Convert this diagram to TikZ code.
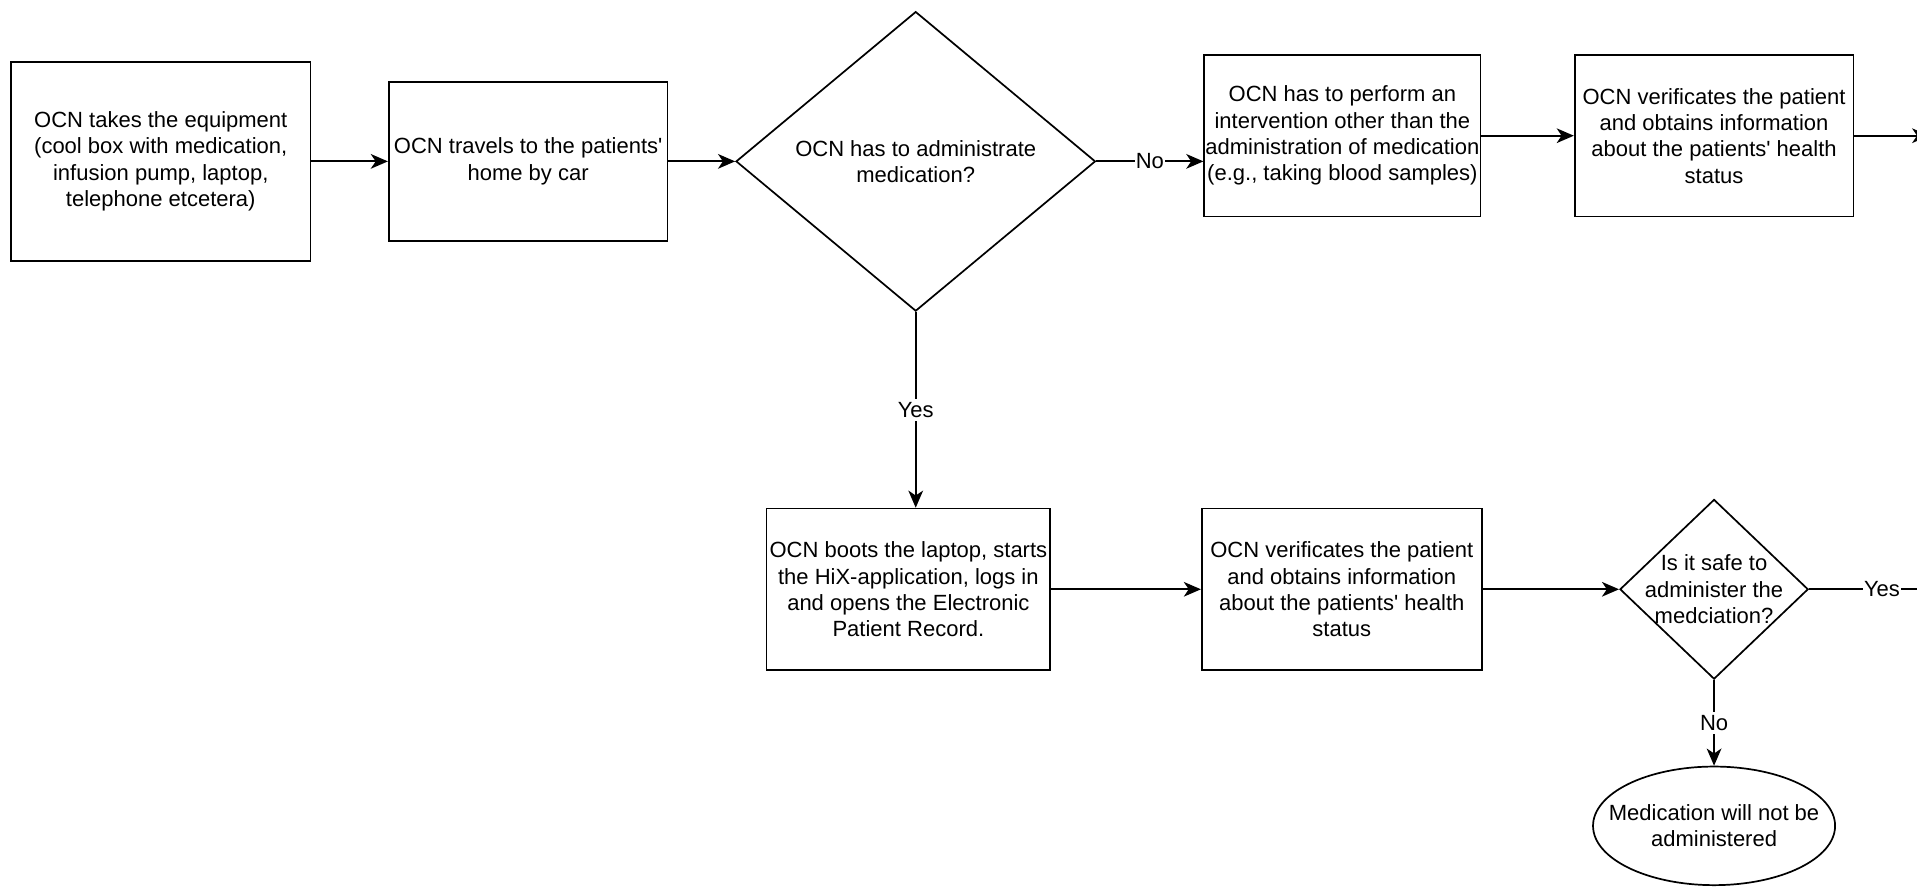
\documentclass[tikz,border=0pt]{standalone}
\usepackage{fontspec}
\setmainfont{Liberation Sans}
\usetikzlibrary{arrows.meta,shapes.geometric}
\newcommand{\apos}{\textquotesingle}
\begin{document}
\begin{tikzpicture}[x=1pt,y=-1pt,
  every node/.style={font=\fontsize{18}{21.5}\selectfont, align=center, inner sep=0pt},
  stepbox/.style={draw, line width=1.4pt, rectangle, fill=white},
  decision/.style={draw, line width=1.4pt, diamond, fill=white},
  terminal/.style={draw, line width=1.4pt, ellipse, fill=white},
  flow/.style={line width=1.5pt, -{Stealth[length=14pt,width=12pt,inset=4pt]}},
  lbl/.style={fill=white, inner xsep=1pt, inner ysep=3pt}
]
\useasboundingbox (0,0) rectangle (1568,725);

% top row
\node[stepbox, minimum width=245pt, minimum height=163pt] (b1) at (131.5,132)
  {OCN takes the equipment\\(cool box with medication,\\infusion pump, laptop,\\telephone etcetera)};
\node[stepbox, minimum width=228pt, minimum height=130pt] (b2) at (432,132)
  {OCN travels to the patients\apos\\home by car};
\node[decision, minimum width=294pt, minimum height=245pt] (d1) at (749,132) {};
\node (d1t) at (d1) {OCN has to administrate\\medication?};
\node[stepbox, minimum width=226pt, minimum height=132pt] (b3) at (1098,111)
  {OCN has to perform an\\intervention other than the\\administration of medication\\(e.g., taking blood samples)};
\node[stepbox, minimum width=228pt, minimum height=132pt] (b4) at (1402,111)
  {OCN verificates the patient\\and obtains information\\about the patients\apos{} health\\status};
\coordinate (out1) at (1578,111);

% bottom row
\node[stepbox, minimum width=232pt, minimum height=132pt] (b5) at (743,482)
  {OCN boots the laptop, starts\\the HiX-application, logs in\\and opens the Electronic\\Patient Record.};
\node[stepbox, minimum width=229pt, minimum height=132pt] (b6) at (1097.5,482)
  {OCN verificates the patient\\and obtains information\\about the patients\apos{} health\\status};
\node[decision, minimum width=154pt, minimum height=147pt] (d2) at (1402,482) {};
\node (d2t) at (d2) {Is it safe to\\administer the\\medciation?};
\node[terminal, minimum width=198pt, minimum height=97pt] (e1) at (1402,675.5) {};
\node (e1t) at (e1) {Medication will not be\\administered};
\coordinate (out2) at (1600,482);

% connectors
\draw[flow] (b1.east) -- (b2.west);
\draw[flow] (b2.east) -- (d1.west);
\draw[flow] (d1.east) -- node[lbl] {No} (d1.east -| b3.west);
\draw[flow] (b3.east) -- (b4.west);
\draw[flow] (b4.east) -- (out1);
\draw[flow] (d1.south) -- node[lbl] {Yes} (d1.south |- b5.north);
\draw[flow] (b5.east) -- (b6.west);
\draw[flow] (b6.east) -- (d2.west);
\draw[flow] (d2.east) -- node[lbl, pos=0.496] {Yes} (out2);
\draw[flow] (d2.south) -- node[lbl] {No} (e1.north);
\end{tikzpicture}
\end{document}
